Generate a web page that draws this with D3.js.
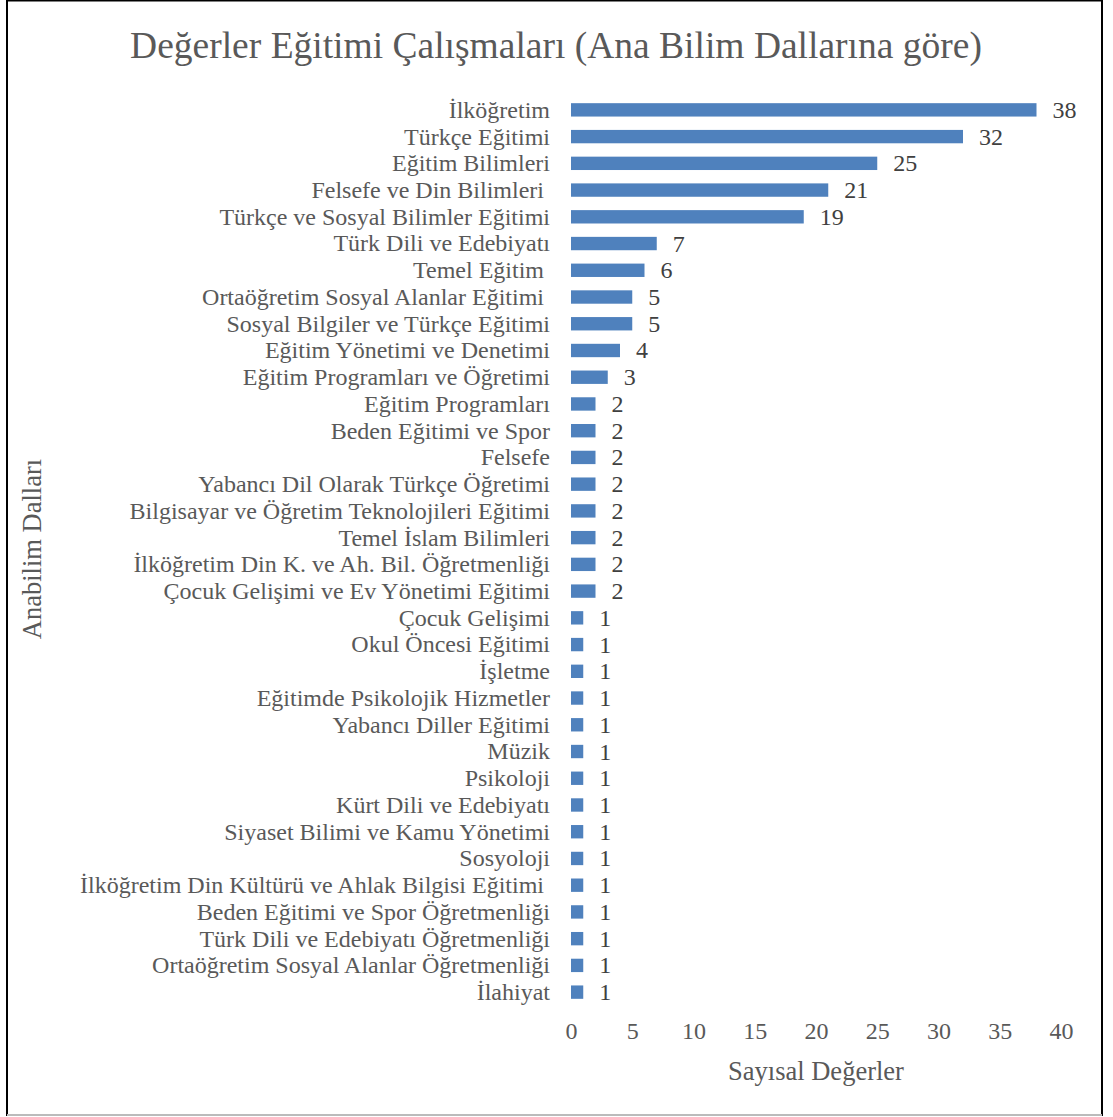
<!DOCTYPE html>
<html>
<head>
<meta charset="utf-8">
<script src="https://cdn.jsdelivr.net/npm/d3@7"></script>
<style>
  html, body { margin: 0; padding: 0; background: #fff; }
  svg text { font-family: "Times New Roman", "Liberation Serif", serif; white-space: pre; }
</style>
</head>
<body>
<svg id="chart" width="1113" height="1117"></svg>
<script>
// categories, top to bottom
const categories = [
  "İlköğretim", "Türkçe Eğitimi", "Eğitim Bilimleri", "Felsefe ve Din Bilimleri ",
  "Türkçe ve Sosyal Bilimler Eğitimi", "Türk Dili ve Edebiyatı", "Temel Eğitim ",
  "Ortaöğretim Sosyal Alanlar Eğitimi ", "Sosyal Bilgiler ve Türkçe Eğitimi",
  "Eğitim Yönetimi ve Denetimi", "Eğitim Programları ve Öğretimi", "Eğitim Programları",
  "Beden Eğitimi ve Spor", "Felsefe", "Yabancı Dil Olarak Türkçe Öğretimi",
  "Bilgisayar ve Öğretim Teknolojileri Eğitimi", "Temel İslam Bilimleri",
  "İlköğretim Din K. ve Ah. Bil. Öğretmenliği", "Çocuk Gelişimi ve Ev Yönetimi Eğitimi",
  "Çocuk Gelişimi", "Okul Öncesi Eğitimi", "İşletme", "Eğitimde Psikolojik Hizmetler",
  "Yabancı Diller Eğitimi", "Müzik", "Psikoloji", "Kürt Dili ve Edebiyatı",
  "Siyaset Bilimi ve Kamu Yönetimi", "Sosyoloji",
  "İlköğretim Din Kültürü ve Ahlak Bilgisi Eğitimi ", "Beden Eğitimi ve Spor Öğretmenliği",
  "Türk Dili ve Edebiyatı Öğretmenliği", "Ortaöğretim Sosyal Alanlar Öğretmenliği", "İlahiyat"
];
const values = [38, 32, 25, 21, 19, 7, 6, 5, 5, 4, 3, 2, 2, 2, 2, 2, 2, 2, 2,
  1, 1, 1, 1, 1, 1, 1, 1, 1, 1, 1, 1, 1, 1, 1];
const xTicks = [0, 5, 10, 15, 20, 25, 30, 35, 40];

const title = "Değerler Eğitimi Çalışmaları (Ana Bilim Dallarına göre)";
const xTitle = "Sayısal Değerler";
const yTitle = "Anabilim Dalları";

const serif = '"Times New Roman", "Liberation Serif", serif';
const svg = d3.select("#chart");

// outer frame
svg.append("rect").attr("x", 7).attr("y", 0.5).attr("width", 1095).attr("height", 1114.5)
  .attr("fill", "none").attr("stroke", "#000").attr("stroke-width", 2);
svg.append("line").attr("x1", 7).attr("x2", 1102).attr("y1", 1115).attr("y2", 1115)
  .attr("stroke", "#bbb").attr("stroke-width", 2);

const x = d3.scaleLinear().domain([0, 40]).range([571, 1061]);
const y = d3.scaleBand().domain(categories).range([96.5, 1005.5]).paddingInner(0.5).paddingOuter(0.25);

svg.append("text")
  .attr("x", 556).attr("y", 58)
  .attr("text-anchor", "middle")
  .attr("font-size", 37.5)
  .attr("fill", "#595959")
  .text(title);

// bars
svg.selectAll(".bar")
  .data(values)
  .enter()
  .append("rect")
  .classed("bar", true)
  .attr("x", x(0))
  .attr("y", (d, i) => y(categories[i]))
  .attr("width", d => x(d) - x(0))
  .attr("height", y.bandwidth())
  .attr("fill", "#4f81bd");

// data labels
svg.selectAll(".val")
  .data(values)
  .enter()
  .append("text")
  .attr("x", d => x(d) + 16)
  .attr("y", (d, i) => y(categories[i]) + y.bandwidth() / 2 + 8)
  .attr("font-size", 24)
  .attr("fill", "#404040")
  .text(d => d);

// category axis
const yAxis = svg.append("g")
  .attr("transform", `translate(${x(0)},0)`)
  .attr("font-family", serif)
  .call(d3.axisLeft(y).tickSize(0).tickPadding(21));
yAxis.select(".domain").remove();
yAxis.selectAll("text")
  .attr("font-size", 24)
  .attr("fill", "#595959")
  .attr("dy", "0.33em");

// value axis
const xAxis = svg.append("g")
  .attr("transform", "translate(0,1022)")
  .attr("font-family", serif)
  .call(d3.axisBottom(x).tickValues(xTicks).tickSize(0).tickPadding(0));
xAxis.select(".domain").remove();
xAxis.selectAll("text")
  .attr("font-size", 24)
  .attr("fill", "#595959");

svg.append("text")
  .attr("x", 816).attr("y", 1080)
  .attr("text-anchor", "middle")
  .attr("font-size", 26.5)
  .attr("fill", "#595959")
  .text(xTitle);

svg.append("text")
  .attr("transform", "translate(41,549) rotate(-90)")
  .attr("text-anchor", "middle")
  .attr("font-size", 26.5)
  .attr("fill", "#595959")
  .text(yTitle);
</script>
</body>
</html>
